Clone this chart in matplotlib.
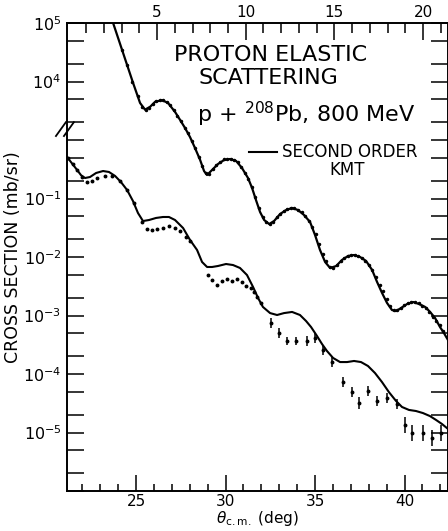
import numpy as np
import matplotlib.pyplot as plt
from matplotlib.ticker import FixedLocator, FixedFormatter, NullFormatter

plt.rcParams['font.family'] = 'DejaVu Sans'
plt.rcParams['mathtext.fontset'] = 'dejavusans'

# p + 208Pb at 800 MeV, 0-21 deg (top scale, upper curve)
up_theory_deg = [2.24, 3.08, 3.65, 4.04, 4.32, 4.61, 4.89, 5.28, 5.62, 6.02, 6.30, 6.58,
                 6.86, 7.14, 7.43, 7.65, 7.82, 8.10, 8.44, 8.78, 9.12, 9.46, 9.79, 10.13,
                 10.36, 10.58, 10.81, 11.04, 11.32, 11.60, 11.94, 12.28, 12.61, 12.95, 13.29,
                 13.63, 13.91, 14.19, 14.48, 14.76, 15.10, 15.43, 15.77, 16.11, 16.45, 16.79,
                 17.13, 17.41, 17.69, 17.97, 18.25, 18.48, 18.76, 19.10, 19.44, 19.78, 20.12,
                 20.40, 20.68, 20.96, 21.18, 21.41]
up_theory_xs = [1.8e5, 3.1e4, 9.4e3, 4.3e3, 3.3e3, 3.7e3, 4.5e3, 4.8e3, 4.3e3, 3.0e3, 2.2e3, 1.6e3,
                1.12e3, 730, 455, 295, 252, 307, 389, 455, 473, 438, 332, 224,
                151, 94, 58.7, 42.9, 36.6, 41.2, 54.3, 63.5, 68.9, 63.5, 52.2,
                39.6, 23.8, 13.2, 8.2, 6.5, 7.0, 8.9, 10.4, 10.8, 10.0, 8.55,
                6.0, 3.74, 2.43, 1.64, 1.24, 1.19, 1.34, 1.57, 1.70, 1.57, 1.40,
                1.15, 0.906, 0.635, 0.502, 0.381]

up_data_deg = [3.0, 3.3, 3.6, 3.9, 4.15, 4.35, 4.55, 4.75, 4.95, 5.15, 5.35, 5.55, 5.75, 5.95,
               6.15, 6.35, 6.55, 6.75, 6.95, 7.15, 7.35, 7.55, 7.75, 7.95, 8.15, 8.35, 8.55,
               8.75, 8.95, 9.15, 9.35, 9.55, 9.75, 9.95, 10.15, 10.35, 10.55, 10.75, 10.95,
               11.15, 11.35, 11.55, 11.75, 11.95, 12.15, 12.35, 12.55, 12.75, 12.95, 13.15,
               13.35, 13.55, 13.75, 13.95, 14.15, 14.35, 14.55, 14.75, 14.95, 15.15, 15.35,
               15.55, 15.75, 15.95, 16.15, 16.35, 16.55, 16.75, 16.95, 17.15, 17.35, 17.55,
               17.75, 17.95, 18.15, 18.35, 18.55, 18.75, 18.95, 19.15, 19.35, 19.55, 19.75,
               19.95, 20.15, 20.35, 20.55, 20.75, 20.95, 21.15]
up_data_xs = [3.5e4, 1.9e4, 1.0e4, 5.6e3, 3.6e3, 3.2e3, 3.5e3, 4.2e3, 4.6e3, 4.9e3, 4.8e3, 4.5e3,
              4.0e3, 3.2e3, 2.6e3, 2.1e3, 1.6e3, 1.3e3, 980, 720, 510, 355, 270, 263, 316, 372,
              427, 468, 479, 479, 457, 417, 347, 275, 219, 158, 107, 69, 49,
              40, 37, 40, 48, 55, 60, 65, 69, 68, 63, 58,
              50, 42, 33, 25, 16.6, 11.2, 8.5, 6.8, 6.6, 7.2, 8.5,
              9.5, 10.5, 10.7, 10.7, 10.2, 9.5, 8.7, 7.2, 5.9, 4.6, 3.3,
              2.6, 1.9, 1.45, 1.26, 1.23, 1.35, 1.51, 1.62, 1.70, 1.70, 1.62,
              1.48, 1.32, 1.15, 0.95, 0.79, 0.69, 0.54]

# 21-42 deg (bottom scale, lower curve)
lo_theory_deg = [21.15, 21.42, 21.70, 21.93, 22.15, 22.43, 22.77, 23.16, 23.49, 23.83, 24.16,
                 24.50, 24.83, 25.11, 25.39, 25.73, 26.12, 26.51, 26.84, 27.18, 27.63, 28.02,
                 28.41, 28.69, 28.97, 29.25, 29.58, 30.03, 30.42, 30.81, 31.20, 31.54, 31.82,
                 32.09, 32.49, 32.88, 33.27, 33.72, 34.16, 34.50, 34.78, 35.11, 35.39, 35.67,
                 36.01, 36.40, 36.79, 37.18, 37.57, 37.96, 38.35, 38.74, 39.13, 39.53, 39.86,
                 40.25, 40.64, 41.03, 41.42, 41.76, 42.09, 42.43]
lo_theory_xs = [0.51, 0.40, 0.31, 0.25, 0.224, 0.233, 0.273, 0.295, 0.284, 0.243, 0.191,
                0.140, 0.0906, 0.0565, 0.0412, 0.0429, 0.0465, 0.0483, 0.0483, 0.0429, 0.0313, 0.0195,
                0.0132, 0.00822, 0.00675, 0.00675, 0.00702, 0.00759, 0.00729, 0.00649, 0.00492,
                0.00307, 0.00199, 0.00140, 0.00110, 0.00102, 0.00110, 0.00115, 0.00102, 8.05e-4,
                6.35e-4, 4.47e-4, 3.26e-4, 2.47e-4, 1.88e-4, 1.60e-4, 1.60e-4, 1.67e-4, 1.60e-4,
                1.37e-4, 1.04e-4, 7.3e-5, 4.9e-5, 3.45e-5, 2.73e-5, 2.43e-5, 2.33e-5, 2.15e-5,
                1.91e-5, 1.64e-5, 1.40e-5, 1.15e-5]

lo_data_deg = [21.20, 21.48, 21.70, 21.98, 22.26, 22.54, 22.82, 23.27, 23.66, 24.11, 24.50,
               24.89, 25.34, 25.61, 25.89, 26.17, 26.51, 26.84, 27.18, 27.46, 27.79, 28.02,
               29.02, 29.25, 29.53, 29.80, 30.08, 30.36, 30.64, 30.92, 31.15, 31.42, 31.59,
               31.76, 31.98]
lo_data_xs = [0.49, 0.39, 0.31, 0.233, 0.191, 0.199, 0.224, 0.243, 0.243, 0.199, 0.140,
              0.0838, 0.0396, 0.0301, 0.0290, 0.0301, 0.0313, 0.0339, 0.0313, 0.0278, 0.0220, 0.0188,
              0.00492, 0.00405, 0.00332, 0.00389, 0.00421, 0.00389, 0.00421, 0.00374, 0.00319,
              0.00295, 0.00252, 0.00207, 0.00164]

# large-angle points with error bars (error given in decades)
lo_err_deg = [32.54, 32.99, 33.44, 33.94, 34.55, 35.00, 35.45, 35.95, 36.56, 37.07, 37.46,
              37.96, 38.46, 39.02, 39.58, 40.03, 40.42, 41.03, 41.54, 42.04]
lo_err_xs = [7.4e-4, 5.0e-4, 3.66e-4, 3.66e-4, 3.66e-4, 4.12e-4, 2.57e-4, 1.60e-4, 7.3e-5, 4.9e-5,
             3.19e-5, 5.1e-5, 3.45e-5, 3.89e-5, 3.07e-5, 1.34e-5, 9.8e-6, 9.8e-6, 8.1e-6, 9.8e-6]
lo_err_dex = [0.08, 0.08, 0.07, 0.07, 0.08, 0.08, 0.09, 0.09, 0.09, 0.09, 0.10,
              0.09, 0.09, 0.09, 0.09, 0.13, 0.14, 0.14, 0.14, 0.14]

fig = plt.figure(figsize=(4.48, 5.31), dpi=100)
rect = [67 / 448, 1 - 491 / 531, 381 / 448, 468 / 531]
ax = fig.add_axes(rect)
ax_up = fig.add_axes(rect, frameon=False)

# lower panel: bottom angle scale, 1e-6..1e2 mb/sr
ax.set_yscale('log')
ax.set_xlim(21.145, 42.43)
ax.set_ylim(1e-6, 1e2)
ax.plot(lo_theory_deg, lo_theory_xs, color='black', lw=1.5)
ax.plot(lo_data_deg, lo_data_xs, 'o', color='black', ms=1.8)
xs = np.array(lo_err_xs)
dex = np.array(lo_err_dex)
ax.errorbar(lo_err_deg, xs, yerr=[xs - xs / 10 ** dex, xs * 10 ** dex - xs],
            fmt='o', color='black', ms=1.8, elinewidth=1.1, capsize=0)

# upper panel: top angle scale, same decade size shifted by 10^3
ax_up.set_yscale('log')
ax_up.set_xlim(-0.08, 21.41)
ax_up.set_ylim(1e-3, 1e5)
ax_up.plot(up_theory_deg, up_theory_xs, color='black', lw=1.6)
ax_up.plot(up_data_deg, up_data_xs, 'o', color='black', ms=1.5)

for s in ax.spines.values():
    s.set_linewidth(1.4)

ax.xaxis.set_major_locator(FixedLocator([25, 30, 35, 40]))
ax.xaxis.set_minor_locator(FixedLocator(np.arange(22, 43, 1)))
ax.tick_params(axis='x', which='both', direction='in', top=False, bottom=True, width=1.1,
               labelsize=11, pad=2)
ax.tick_params(axis='x', which='major', length=11.5)
ax.tick_params(axis='x', which='minor', length=5)

lo_major = [1e-6, 1e-5, 1e-4, 1e-3, 1e-2, 1e-1]
lo_labels = ['', r'$10^{-5}$', r'$10^{-4}$', r'$10^{-3}$', r'$10^{-2}$', r'$10^{-1}$']
ax.yaxis.set_major_locator(FixedLocator(lo_major))
ax.yaxis.set_major_formatter(FixedFormatter(lo_labels))
ax.yaxis.set_minor_locator(FixedLocator([m * 10.0 ** e for e in range(-6, 0) for m in (2, 5)]))
ax.yaxis.set_minor_formatter(NullFormatter())
ax.tick_params(axis='y', which='both', direction='in', left=True, right=True, length=12,
               width=1.1, labelsize=11.5, pad=4)

ax_up.xaxis.tick_top()
ax_up.xaxis.set_major_locator(FixedLocator([5, 10, 15, 20]))
ax_up.xaxis.set_minor_locator(FixedLocator(np.arange(1, 22, 1)))
ax_up.tick_params(axis='x', which='both', direction='in', top=True, bottom=False, width=1.1,
                  labelsize=11, pad=2)
ax_up.tick_params(axis='x', which='major', length=12)
ax_up.tick_params(axis='x', which='minor', length=7)
ax_up.yaxis.set_major_locator(FixedLocator([1e3, 1e4, 1e5]))
ax_up.yaxis.set_major_formatter(FixedFormatter(['', r'$10^{4}$', r'$10^{5}$']))
ax_up.yaxis.set_minor_locator(FixedLocator([2e3, 5e3, 2e4, 5e4]))
ax_up.yaxis.set_minor_formatter(NullFormatter())
ax_up.tick_params(axis='y', which='both', direction='in', left=True, right=True, length=12,
                  width=1.1, labelsize=11.5, pad=4)

# axis break marks on the left spine
for x0 in (-0.029, -0.008):
    ax.plot([x0, x0 + 0.026], [0.7585, 0.788], color='black', lw=1.3,
            transform=ax.transAxes, clip_on=False)

ax.set_ylabel('CROSS SECTION (mb/sr)', fontsize=12.5, labelpad=1)
ax.set_xlabel(r'$\theta_{\rm c.m.}$ (deg)', fontsize=11, labelpad=0)

ax.text(0.533, 0.932, 'PROTON ELASTIC', transform=ax.transAxes, fontsize=16,
        ha='center', va='center')
ax.text(0.530, 0.8825, 'SCATTERING', transform=ax.transAxes, fontsize=16,
        ha='center', va='center')
ax.text(0.627, 0.8056, r'p + $^{208}$Pb, 800 MeV', transform=ax.transAxes, fontsize=16,
        ha='center', va='center')

ax.plot([0.478, 0.551], [0.7244, 0.7244], color='black', lw=1.5, transform=ax.transAxes)
ax.text(0.564, 0.7244, 'SECOND ORDER', transform=ax.transAxes, fontsize=12,
        ha='left', va='center')
ax.text(0.735, 0.686, 'KMT', transform=ax.transAxes, fontsize=12,
        ha='center', va='center')

fig.savefig('out.png', dpi=100)
